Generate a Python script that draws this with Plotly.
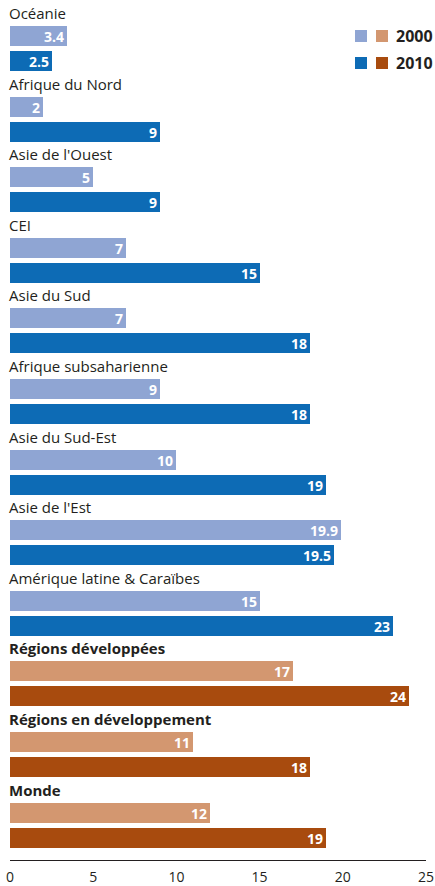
import plotly.graph_objects as go

categories = ["Océanie", "Afrique du Nord", "Asie de l'Ouest", "CEI", "Asie du Sud",
              "Afrique subsaharienne", "Asie du Sud-Est", "Asie de l'Est",
              "Amérique latine & Caraïbes", "Régions développées",
              "Régions en développement", "Monde"]
values_2000 = [3.4, 2, 5, 7, 7, 9, 10, 19.9, 15, 17, 11, 12]
values_2010 = [2.5, 9, 9, 15, 18, 18, 19, 19.5, 23, 24, 18, 19]
labels_2000 = ["3.4", "2", "5", "7", "7", "9", "10", "19.9", "15", "17", "11", "12"]
labels_2010 = ["2.5", "9", "9", "15", "18", "18", "19", "19.5", "23", "24", "18", "19"]
aggregate = [False] * 9 + [True] * 3
x_ticks = [0, 5, 10, 15, 20, 25]

C_LB, C_B = "#8FA5D3", "#0D6BB5"
C_LO, C_O = "#D39770", "#A84B0E"
TXT = "#231F20"
FONT = "Open Sans"

PITCH = 70.6  # px per group
H_PLOT = 860
n = len(categories)
lab_off, off00, off10, bw = 13 / PITCH, 36 / PITCH, 61 / PITCH, 20 / PITCH

fig = go.Figure()
fig.add_trace(go.Bar(
    orientation="h", x=values_2000, y=[i + off00 for i in range(n)], width=bw,
    marker=dict(color=[C_LO if a else C_LB for a in aggregate], line_width=0),
    text=labels_2000, textposition="inside", insidetextanchor="end", textangle=0,
    textfont=dict(family=FONT, size=14, color="white", weight="bold"),
    constraintext="none",
    cliponaxis=False, showlegend=False, hoverinfo="skip"))
fig.add_trace(go.Bar(
    orientation="h", x=values_2010, y=[i + off10 for i in range(n)], width=bw,
    marker=dict(color=[C_O if a else C_B for a in aggregate], line_width=0),
    text=labels_2010, textposition="inside", insidetextanchor="end", textangle=0,
    textfont=dict(family=FONT, size=14, color="white", weight="bold"),
    constraintext="none",
    cliponaxis=False, showlegend=False, hoverinfo="skip"))

for i, (c, a) in enumerate(zip(categories, aggregate)):
    fig.add_annotation(x=0, y=i + lab_off, xref="x", yref="y", text=c,
                       showarrow=False, xanchor="left", yanchor="middle", xshift=-3,
                       font=dict(family=FONT, size=15, color=TXT,
                                 weight="bold" if a else "normal"))

# legend (swatches + labels)
px = 25 / 416
for row, (ys, yr, lbl) in enumerate([((30, 42), 36, "2000"), ((57, 69), 63, "2010")]):
    c1, c2 = (C_LB, C_LO) if row == 0 else (C_B, C_O)
    for (x0, x1), col in [((355, 367), c1), ((376, 388), c2)]:
        fig.add_shape(type="rect", xref="x", yref="y",
                      x0=(x0 - 10) * px, x1=(x1 - 10) * px,
                      y0=ys[0] / PITCH, y1=ys[1] / PITCH, fillcolor=col, line_width=0)
    fig.add_annotation(x=(394 - 10) * px, y=yr / PITCH, xref="x", yref="y", text=lbl,
                       showarrow=False, xanchor="left", yanchor="middle",
                       font=dict(family=FONT, size=16, color=TXT, weight="bold"))

fig.update_layout(
    width=435, height=886,
    margin=dict(l=10, r=9, t=0, b=886 - H_PLOT, autoexpand=False),
    plot_bgcolor="white", paper_bgcolor="white", bargap=0,
    uniformtext=dict(minsize=14, mode="show"),
    xaxis=dict(range=[0, 25], tickvals=x_ticks, showgrid=False, zeroline=False,
               showline=True, linecolor=TXT, linewidth=1, ticks="",
               ticklabelstandoff=4, automargin=False,
               tickfont=dict(family=FONT, size=14, color=TXT), fixedrange=True),
    yaxis=dict(range=[H_PLOT / PITCH, 0], visible=False, fixedrange=True,
               automargin=False),
)
fig.write_html("out.html", config={"displayModeBar": False},
               post_script="document.body.style.margin='0';document.body.style.overflow='hidden';")
